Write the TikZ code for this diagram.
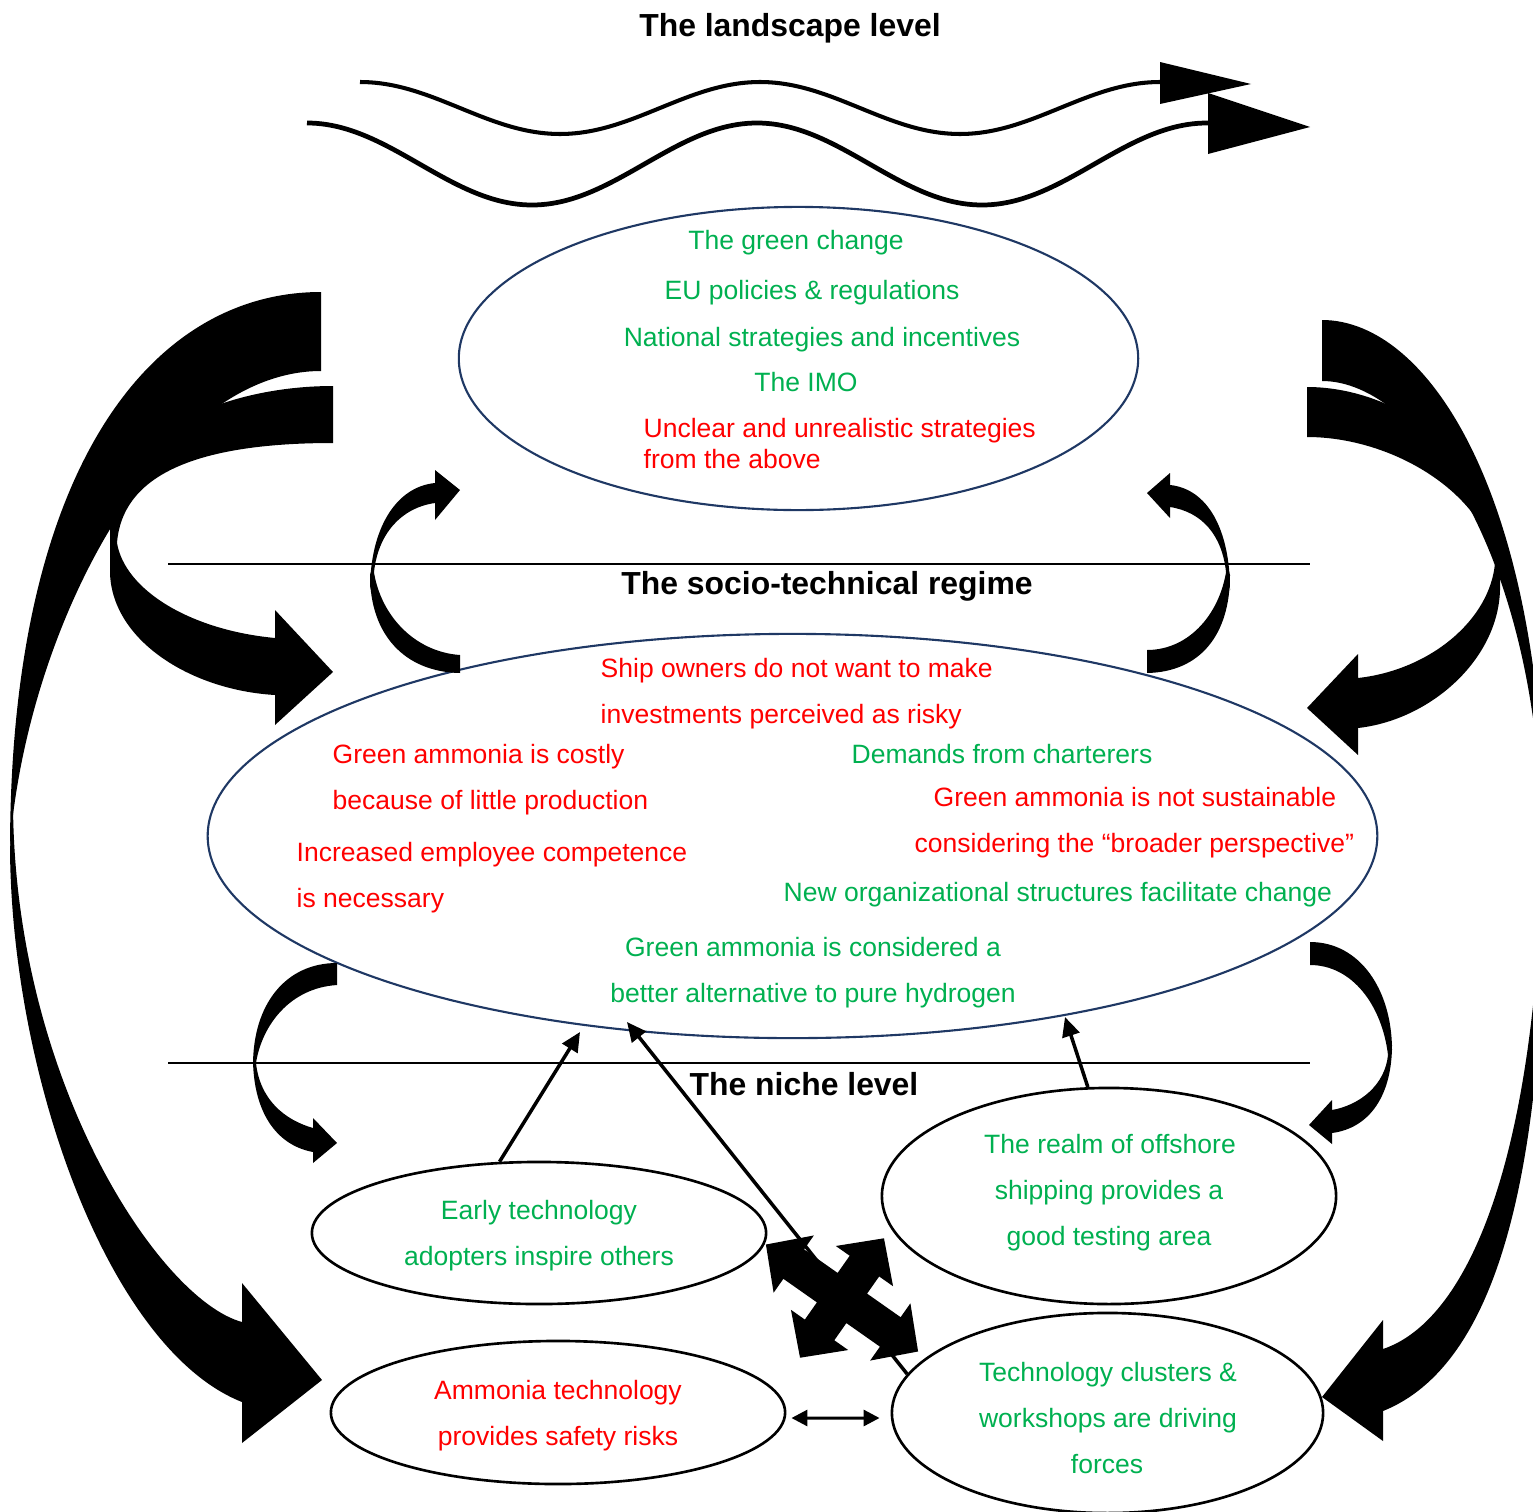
\documentclass[tikz,border=0pt]{standalone}
\usepackage{fontspec}
\setmainfont{Liberation Sans}
\usetikzlibrary{arrows.meta,shapes.geometric}
\definecolor{grn}{HTML}{00B050}
\definecolor{rd}{HTML}{FF0000}
\definecolor{navy}{HTML}{1F3864}
\begin{document}
\begin{tikzpicture}[x=0.01cm,y=-0.01cm,
  txt/.style={font=\fontsize{7.54}{9}\selectfont, inner sep=0pt, anchor=base},
  gtxt/.style={txt, text=grn},
  rtxt/.style={txt, text=rd},
  ttl/.style={font=\fontsize{9.07}{11}\selectfont\bfseries, inner sep=0pt, anchor=base},
  ell/.style={ellipse, inner sep=0pt},
  navyell/.style={ell, draw=navy, line width=0.6pt},
  blackell/.style={ell, draw=black, line width=0.75pt},
  sep/.style={line width=0.55pt},
  arr/.style={line width=1pt, -{Triangle[length=5.5pt,width=5pt]}},
  dbl/.style={line width=0.85pt, {Triangle[length=4.5pt,width=4.5pt]}-{Triangle[length=4.5pt,width=4.5pt]}},
  wave/.style={line width=1.15pt}
]
\useasboundingbox (0,0) rectangle (1533,1512);

% ---------- titles ----------
\node[ttl] (tland) at (790,37) {The landscape level};
\node[ttl] (treg) at (827,594) {The socio-technical regime};
\node[ttl] (tniche) at (804,1095) {The niche level};

% ---------- separators ----------
\coordinate (s1a) at (168,564); \coordinate (s1b) at (1310,564);
\coordinate (s2a) at (168,1063); \coordinate (s2b) at (1310,1063);
\draw[sep] (s1a) -- (s1b);
\draw[sep] (s2a) -- (s2b);

% ---------- wavy landscape arrows ----------
\draw[wave] plot[domain=360:1160, samples=161] (\x, {108-26*cos(0.9*(\x-360))});
\fill (1160,62) -- (1251,84) -- (1160,104) -- cycle;
\draw[wave, line width=1.35pt] plot[domain=307:1208, samples=181] (\x, {164-41*cos(0.8*(\x-307))});
\fill (1208,93) -- (1310,127) -- (1208,154) -- cycle;

% ---------- ellipses ----------
\node[navyell, minimum width=6.79cm, minimum height=3.03cm] (land) at (798.5,358.5) {};
\node[navyell, minimum width=11.69cm, minimum height=4.04cm] (regime) at (792.5,836) {};
\node[blackell, minimum width=4.54cm, minimum height=1.42cm] (early) at (539,1233) {};
\node[blackell, minimum width=4.54cm, minimum height=2.16cm] (offshore) at (1109,1196) {};
\node[blackell, minimum width=4.54cm, minimum height=1.43cm] (ammonia) at (558,1412.5) {};
\node[blackell, minimum width=4.31cm, minimum height=2.00cm] (cluster) at (1107.5,1413) {};

% ---------- big outer left arrow ----------
\fill (321,292) .. controls (150,292) and (10,470) .. (10,850) -- (13,815) .. controls (40,600) and (170,371) .. (321,371) -- cycle;
\fill (10,850) .. controls (12,1080) and (110,1350) .. (242,1402) -- (242,1443) -- (322,1380) -- (242,1283) -- (242,1322) .. controls (160,1300) and (13,1080) .. (13,800) -- cycle;

% ---------- middle left arrow ----------
\fill (333,386) .. controls (230,386) and (110,430) .. (110,530) -- (117,543) .. controls (122,478) and (190,443) .. (333,443) -- cycle;
\fill (110,515) -- (110,573) .. controls (112,640) and (190,690) .. (275,695) -- (275,725) -- (333,672) -- (275,610) -- (275,638) .. controls (190,630) and (125,590) .. (117,543) -- cycle;

% ---------- big outer right arrow (clipped) ----------
\begin{scope}
\clip (0,0) rectangle (1533,1512);
\fill (1322,320) .. controls (1430,320) and (1545,500) .. (1545,850) -- (1542,850) .. controls (1542,560) and (1420,381) .. (1322,381) -- cycle;
\fill (1545,850) .. controls (1546,1150) and (1505,1362) .. (1383,1411) -- (1383,1441) -- (1322,1397) -- (1383,1320) -- (1383,1349) .. controls (1470,1320) and (1543,1150) .. (1543,800) -- cycle;
\end{scope}

% ---------- middle right arrow ----------
\fill (1307,387) .. controls (1400,387) and (1500,460) .. (1500,563) -- (1495,560) .. controls (1480,490) and (1390,437) .. (1307,437) -- cycle;
\fill (1500,563) -- (1500,590) .. controls (1498,660) and (1430,720) .. (1358,728) -- (1358,755) -- (1307,708) -- (1358,654) -- (1358,678) .. controls (1430,670) and (1490,620) .. (1495,563) -- cycle;

% ---------- small regime -> landscape arrows ----------
\fill (370,590) .. controls (370,530) and (395,487) .. (435,483) -- (435,470) -- (460,490) -- (435,520) -- (435,503) .. controls (400,508) and (378,535) .. (374,572) -- cycle;
\fill (460,673) .. controls (405,672) and (370,635) .. (370,575) -- (373,565) .. controls (378,615) and (415,652) .. (460,655) -- cycle;
\fill (1230,590) .. controls (1230,530) and (1208,489) .. (1170,485) -- (1170,473) -- (1147,493) -- (1170,518) -- (1170,507) .. controls (1202,512) and (1222,535) .. (1226,572) -- cycle;
\fill (1147,673) .. controls (1200,672) and (1230,635) .. (1230,575) -- (1227,565) .. controls (1222,612) and (1190,650) .. (1147,650) -- cycle;

% ---------- small regime -> niche arrows ----------
\fill (337,963) .. controls (285,963) and (253,1005) .. (253,1065) -- (256,1063) .. controls (262,1025) and (290,988) .. (337,985) -- cycle;
\fill (253,1058) .. controls (253,1110) and (275,1145) .. (313,1152) -- (313,1163) -- (337,1143) -- (313,1118) -- (313,1128) .. controls (285,1120) and (260,1100) .. (256,1063) -- cycle;
\fill (1310,942) .. controls (1360,942) and (1392,990) .. (1392,1050) -- (1388,1055) .. controls (1382,1005) and (1352,965) .. (1310,965) -- cycle;
\fill (1392,1045) .. controls (1392,1095) and (1370,1128) .. (1332,1133) -- (1332,1144) -- (1309,1125) -- (1332,1100) -- (1332,1110) .. controls (1360,1105) and (1385,1085) .. (1388,1055) -- cycle;

% ---------- quad arrow ----------
\begin{scope}[shift={(842,1298)}, rotate=-35.1]
\fill (93,0) -- (59,35) -- (59,18) -- (18,18) -- (18,39) -- (35,39) -- (0,73) -- (-35,39) -- (-18,39) -- (-18,18) -- (-59,18) -- (-59,35) -- (-93,0) -- (-59,-35) -- (-59,-18) -- (-18,-18) -- (-18,-39) -- (-35,-39) -- (0,-73) -- (35,-39) -- (18,-39) -- (18,-18) -- (59,-18) -- (59,-35) -- cycle;
\end{scope}

% ---------- straight arrows ----------
\coordinate (tipA) at (580,1032);
\coordinate (tipB) at (1065,1017);
\coordinate (tipC) at (627,1022);
\draw[arr] (early.119) -- (tipA);
\draw[arr] (offshore.101.5) -- (tipB);
\draw[arr] (cluster.169) -- (tipC);
\draw[dbl, shorten <=0.05cm, shorten >=0.11cm] ([yshift=-0.055cm]ammonia.east) -- ([yshift=-0.05cm]cluster.west);

% ---------- landscape texts ----------
\node[gtxt] (l1) at (796,249) {The green change};
\node[gtxt] (l2) at (812,299) {EU policies \& regulations};
\node[gtxt] (l3) at (822,346) {National strategies and incentives};
\node[gtxt] (l4) at (806,391) {The IMO};
\node[rtxt, anchor=base west] (l5) at (643,437) {Unclear and unrealistic strategies};
\node[rtxt, anchor=base west] (l6) at (643,468) {from the above};

% ---------- regime texts ----------
\node[rtxt, anchor=base west] (r1) at (600,677) {Ship owners do not want to make};
\node[rtxt, anchor=base west] (r2) at (600,723) {investments perceived as risky};
\node[rtxt, anchor=base west] (r3) at (332,763) {Green ammonia is costly};
\node[rtxt, anchor=base west] (r4) at (332,809) {because of little production};
\node[gtxt, anchor=base west] (r5) at (851,763) {Demands from charterers};
\node[rtxt, anchor=base west] (r6) at (933,806) {Green ammonia is not sustainable};
\node[rtxt, anchor=base west] (r7) at (914,852) {considering the “broader perspective”};
\node[rtxt, anchor=base west] (r8) at (296,861) {Increased employee competence};
\node[rtxt, anchor=base west] (r9) at (296,907) {is necessary};
\node[gtxt, anchor=base west] (r10) at (783,901) {New organizational structures facilitate change};
\node[gtxt] (r11) at (813,956) {Green ammonia is considered a};
\node[gtxt] (r12) at (813,1002) {better alternative to pure hydrogen};

% ---------- niche texts ----------
\node[gtxt] (n1) at (539,1219) {Early technology};
\node[gtxt] (n2) at (539,1265) {adopters inspire others};
\node[gtxt] (n3) at (1110,1153) {The realm of offshore};
\node[gtxt] (n4) at (1109,1199) {shipping provides a};
\node[gtxt] (n5) at (1109,1245) {good testing area};
\node[rtxt] (n6) at (558,1399) {Ammonia technology};
\node[rtxt] (n7) at (558,1445) {provides safety risks};
\node[gtxt] (n8) at (1108,1381) {Technology clusters \&};
\node[gtxt] (n9) at (1108,1427) {workshops are driving};
\node[gtxt] (n10) at (1107,1473) {forces};
\end{tikzpicture}
\end{document}
